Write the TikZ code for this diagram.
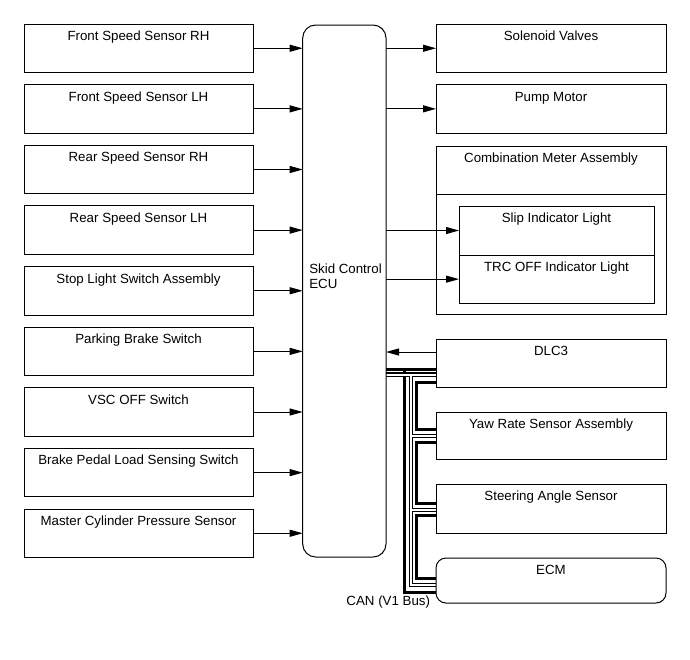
\documentclass[tikz,border=0pt]{standalone}
\usepackage{fontspec}
\setmainfont{Liberation Sans}
\usetikzlibrary{arrows.meta,calc}
\pgfdeclarelayer{bg}
\pgfsetlayers{bg,main}
\begin{document}
\begin{tikzpicture}[x=1pt,y=-1pt,
  box/.style={draw, line width=1pt, inner sep=0pt, outer sep=0pt, anchor=north west, minimum height=48.5pt},
  lbox/.style={box, minimum width=229pt},
  rbox/.style={box, minimum width=230pt},
  lbl/.style={anchor=base, inner sep=0pt, outer sep=0pt, font=\fontsize{13.3}{15}\selectfont},
  arr/.style={-{Triangle[length=13pt,width=7pt]}, line width=1pt},
  busH/.style={line width=3pt, line join=miter},
  busLo/.style={line width=4.2pt, line join=miter},
  busLi/.style={line width=2pt, white, line join=miter}]
\useasboundingbox (0,0) rectangle (690,659);

% ECU
\node[draw, line width=1pt, rounded corners=13pt, inner sep=0pt, outer sep=0pt, anchor=north west,
      minimum width=83.3pt, minimum height=532pt] (ecu) at (302.7,25) {};
\node[lbl, anchor=base west] (ecut1) at (309.3,273.3) {Skid Control};
\node[lbl, anchor=base west] (ecut2) at (309.3,288.3) {ECU};

% left inputs
\foreach \i/\t in {1/Front Speed Sensor RH, 2/Front Speed Sensor LH, 3/Rear Speed Sensor RH,
  4/Rear Speed Sensor LH, 5/Stop Light Switch Assembly, 6/Parking Brake Switch,
  7/VSC OFF Switch, 8/Brake Pedal Load Sensing Switch, 9/Master Cylinder Pressure Sensor} {
  \node[lbox] (L\i) at (24,{24+60.625*(\i-1)}) {};
  \node[lbl] (LT\i) at ([yshift=-16.5pt]L\i.north) {\t};
  \draw[arr] (L\i.east) -- (L\i.east -| ecu.west);
}

% right outputs
\node[rbox] (sv) at (436,24) {};
\node[lbl] (svt) at ([yshift=-16.5pt]sv.north) {Solenoid Valves};
\node[rbox] (pm) at (436,84.6) {};
\node[lbl] (pmt) at ([yshift=-16.5pt]pm.north) {Pump Motor};
\draw[arr] (ecu.east |- sv.west) -- (sv.west);
\draw[arr] (ecu.east |- pm.west) -- (pm.west);

\node[rbox, minimum height=168pt] (cma) at (436,146) {};
\node[lbl] (cmat) at ([yshift=-16.5pt]cma.north) {Combination Meter Assembly};
\draw[line width=1pt] ($(cma.north west)+(0,48)$) -- ($(cma.north east)+(0,48)$);
\node[box, minimum width=195pt, minimum height=49pt] (slip) at (459,206) {};
\node[lbl] (slipt) at ([yshift=-16.8pt]slip.north) {Slip Indicator Light};
\node[box, minimum width=195pt, minimum height=48.3pt] (trc) at (459,255) {};
\node[lbl] (trct) at ([yshift=-16.3pt]trc.north) {TRC OFF Indicator Light};
\draw[arr] (ecu.east |- slip.west) -- (slip.west);
\draw[arr] (ecu.east |- trc.west) -- (trc.west);

% CAN devices
\node[rbox, minimum height=48pt] (dlc) at (436,339) {};
\node[lbl] (dlct) at ([yshift=-16.5pt]dlc.north) {DLC3};
\node[rbox, minimum height=47pt] (yaw) at (436,412) {};
\node[lbl] (yawt) at ([yshift=-16.5pt]yaw.north) {Yaw Rate Sensor Assembly};
\node[rbox, minimum height=49pt] (str) at (436,484) {};
\node[lbl] (strt) at ([yshift=-16.5pt]str.north) {Steering Angle Sensor};
\node[rbox, minimum height=45pt, rounded corners=10pt] (ecm) at (436,558) {};
\node[lbl] (ecmt) at ([yshift=-16.5pt]ecm.north) {ECM};
\node[lbl, anchor=base east] (can) at (430,605.5) {CAN (V1 Bus)};

\coordinate (da) at ($(dlc.north west)+(0,13)$);
\draw[arr] (da) -- (da -| ecu.east);

% bus coordinates
\coordinate (h0) at ($(dlc.north west)+(0,30)$);
\coordinate (l0) at ($(dlc.north west)+(0,35.5)$);
\coordinate (d0) at ($(dlc.north west)+(0,43)$);
\coordinate (y1) at ($(yaw.north west)+(0,17)$);
\coordinate (y2) at ($(yaw.north west)+(0,24)$);
\coordinate (y3) at ($(yaw.north west)+(0,30)$);
\coordinate (s1) at ($(str.north west)+(0,19)$);
\coordinate (s2) at ($(str.north west)+(0,26)$);
\coordinate (s3) at ($(str.north west)+(0,31)$);
\coordinate (e1) at ($(ecm.north west)+(0,20)$);
\coordinate (e2) at ($(ecm.north west)+(0,27)$);
\coordinate (e3) at ($(ecm.north west)+(0,34)$);
\coordinate (xh) at ($(ecu.east)+(18,0)$);
\coordinate (xl) at ($(ecu.east)+(25,0)$);
\coordinate (xc) at ($(ecu.east)+(30.5,0)$);

\begin{pgfonlayer}{bg}
  \draw[busH] (ecu.east |- h0) -- (h0);
  \draw[busH] (xh |- h0) |- (e3);
  \draw[busH] (d0) -- (d0 -| xc) |- (y1);
  \draw[busH] (y3) -- (y3 -| xc) |- (s1);
  \draw[busH] (s3) -- (s3 -| xc) |- (e1);
  \foreach \st in {busLo, busLi} {
    \draw[\st] (ecu.east |- l0) -- (l0) (xl |- l0) |- (e2) (xl |- y2) -- (y2) (xl |- s2) -- (s2);
  }
\end{pgfonlayer}
\end{tikzpicture}
\end{document}
